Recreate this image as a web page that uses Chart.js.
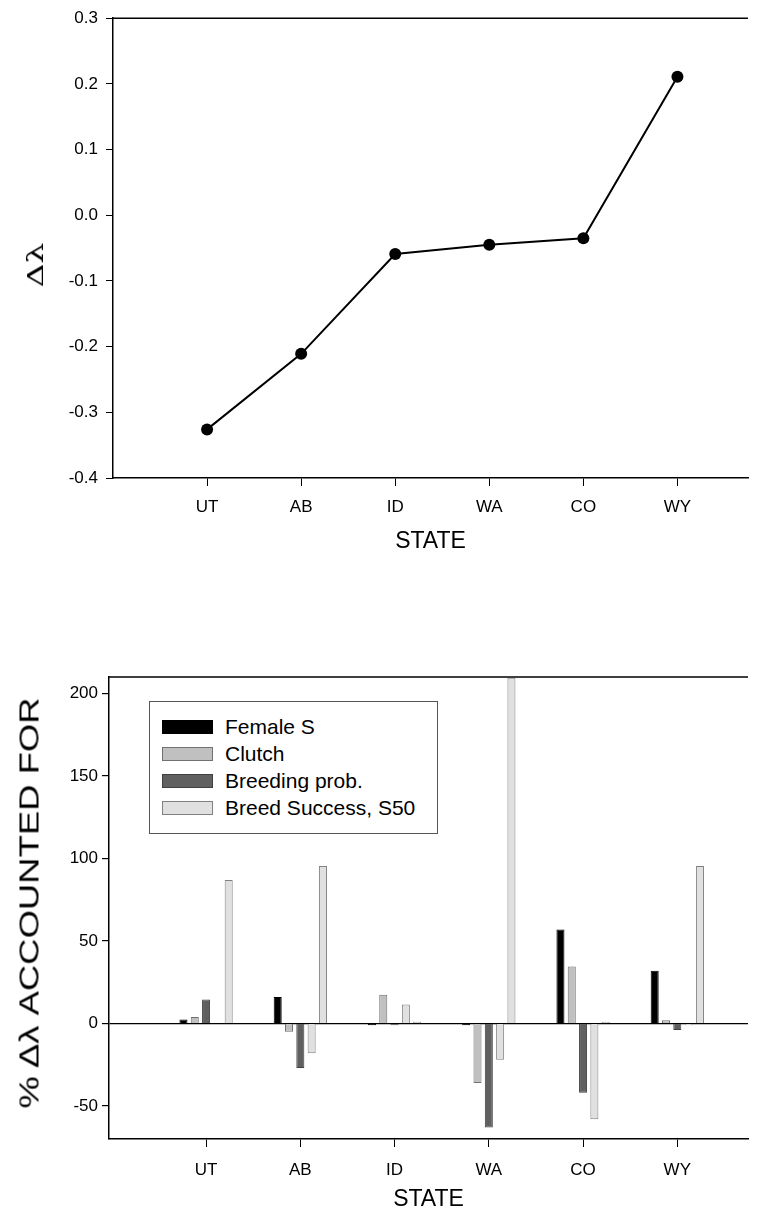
<!DOCTYPE html>
<html>
<head>
<meta charset="UTF-8" />
<title>Delta lambda by state</title>
<script src="https://cdn.jsdelivr.net/npm/chart.js"></script>
<style>
  body {
    margin: 0;
    background: #fff;
    width: 761px;
    height: 1221px;
    position: relative;
    overflow: hidden;
    font-family: 'Liberation Sans', Arial, sans-serif;
  }
  #lambdaChart { position: absolute; left: 0; top: 0; }
  #shareChart { position: absolute; left: 0; top: 570px; }
  #legend {
    position: absolute;
    left: 149px;
    top: 701px;
    width: 287px;
    height: 131px;
    border: 1px solid #555;
    background: #fff;
  }
  .item {
    position: absolute;
    left: 12px;
    height: 20px;
    font-size: 21px;
    line-height: 20px;
    color: #000;
    white-space: nowrap;
  }
  .swatch {
    position: absolute;
    left: 0;
    top: 3px;
    width: 49px;
    height: 12px;
    border: 1px solid #000;
  }
  .item span { position: absolute; left: 63px; top: 0; }
  /* y axis titles, stretched along the text like the original */
  .ytitle {
    position: absolute;
    white-space: nowrap;
    color: #000;
    line-height: 1;
  }
  #lambdaTitle {
    left: 36px; top: 265px;
    font-family: 'DejaVu Serif', 'Liberation Serif', serif;
    font-size: 22px;
    transform: translate(-50%, -50%) rotate(-90deg) scaleX(1.5);
  }
  #shareTitle {
    left: 30px; top: 903px;
    font-size: 27px;
    transform: translate(-50%, -50%) rotate(-90deg) scaleX(1.35);
  }
</style>
</head>
<body>

<canvas id="lambdaChart" width="761" height="570"></canvas>
<canvas id="shareChart" width="761" height="651"></canvas>
<div id="legend"></div>
<div class="ytitle" id="lambdaTitle">Δλ</div>
<div class="ytitle" id="shareTitle">% Δλ ACCOUNTED FOR</div>

<script>
// data
var categories = ["UT", "AB", "ID", "WA", "CO", "WY"];
var deltaLambda = [-0.326, -0.211, -0.059, -0.045, -0.035, 0.211];

var femaleS = [2.4, 16, -1, -1, 57, 32];
var clutch = [4, -5, 17.5, -36, 34.5, 2];
var breedingProb = [14.5, -27, -1, -63, -42, -4];
var breedSuccess = [0, -18, 11.5, -22, -58, -1];
var s50 = [87, 95.5, 1, 209.5, 1, 95.5];

var seriesNames = ["Female S", "Clutch", "Breeding prob.", "Breed Success, S50", ""];

var lambdaTicks = [-0.4, -0.3, -0.2, -0.1, 0, 0.1, 0.2, 0.3];
var shareTicks = [-50, 0, 50, 100, 150, 200];

var tickFont = { family: "'Liberation Sans', Arial, sans-serif", size: 17 };
var titleFont = { family: "'Liberation Sans', Arial, sans-serif", size: 23 };

function points(values) {
  return values.map(function (v, i) { return { x: i + 1, y: v }; });
}

// top edge of the plot frame
var topFrame = {
  id: "topFrame",
  afterDraw: function (chart) {
    var ctx = chart.ctx, a = chart.chartArea;
    ctx.save();
    ctx.strokeStyle = "#000";
    ctx.lineWidth = 1.5;
    ctx.beginPath();
    ctx.moveTo(a.left, a.top);
    ctx.lineTo(a.right, a.top);
    ctx.stroke();
    ctx.restore();
  }
};

function stateAxis(min, height, titlePad, labelPad) {
  return {
    type: "linear",
    min: min,
    max: 6.75,
    offset: false,
    afterBuildTicks: function (scale) {
      scale.ticks = categories.map(function (c, i) { return { value: i + 1 }; });
    },
    afterFit: function (scale) { scale.height = height; },
    ticks: {
      autoSkip: false,
      maxRotation: 0,
      color: "#000",
      font: tickFont,
      padding: labelPad,
      callback: function (v) { return categories[v - 1] || ""; }
    },
    grid: { display: true, offset: false, drawOnChartArea: false, tickLength: 8, tickColor: "#000" },
    border: { display: true, color: "#000", width: 1.5 },
    title: { display: true, text: "STATE", color: "#000", font: titleFont, padding: { top: 0, bottom: titlePad } }
  };
}

function fixedTicks(list) {
  return function (scale) {
    scale.ticks = list.map(function (v) { return { value: v }; });
  };
}

new Chart(document.getElementById("lambdaChart"), {
  type: "line",
  data: {
    datasets: [{
      data: points(deltaLambda),
      borderColor: "#000",
      backgroundColor: "#000",
      borderWidth: 2,
      pointRadius: 6,
      pointBackgroundColor: "#000",
      pointBorderWidth: 0,
      tension: 0
    }]
  },
  options: {
    responsive: false,
    animation: false,
    layout: { padding: { top: 16, right: 13, left: 0, bottom: 0 } },
    plugins: { legend: { display: false }, tooltip: { enabled: false } },
    scales: {
      x: stateAxis(0, 92, 15, 11),
      y: {
        min: -0.4,
        max: 0.3,
        afterBuildTicks: fixedTicks(lambdaTicks),
        ticks: {
          color: "#000",
          font: tickFont,
          padding: 8,
          callback: function (v) { return Math.abs(v) < 1e-9 ? "0.0" : v.toFixed(1); }
        },
        afterFit: function (scale) { scale.width = 113; },
        grid: { drawOnChartArea: false, tickLength: 7, tickColor: "#000" },
        border: { color: "#000", width: 1.5 },
        title: { display: false }
      }
    }
  },
  plugins: [topFrame]
});

var fills = ["#000000", "#c0c0c0", "#606060", "#e0e0e0", "#e0e0e0"];
var edges = ["#000000", "#707070", "#404040", "#808080", "#808080"];
var seriesValues = [femaleS, clutch, breedingProb, breedSuccess, s50];

var shareChart = new Chart(document.getElementById("shareChart"), {
  type: "bar",
  data: {
    datasets: seriesValues.map(function (vals, k) {
      return {
        label: seriesNames[k],
        data: points(vals),
        backgroundColor: fills[k],
        borderColor: edges[k],
        borderWidth: 1,
        categoryPercentage: 0.6,
        barPercentage: 0.71
      };
    })
  },
  options: {
    responsive: false,
    animation: false,
    layout: { padding: { top: 107, right: 13, left: 0, bottom: 0 } },
    plugins: { legend: { display: false }, tooltip: { enabled: false } },
    scales: {
      x: stateAxis(-0.03, 82, 8, 13),
      y: {
        min: -70,
        max: 210,
        afterBuildTicks: fixedTicks(shareTicks),
        ticks: { color: "#000", font: tickFont, padding: 4 },
        afterFit: function (scale) { scale.width = 109; },
        grid: {
          drawOnChartArea: true,
          tickLength: 7,
          tickColor: "#000",
          lineWidth: 1.2,
          color: function (c) { return c.tick && c.tick.value === 0 ? "#000" : "rgba(0,0,0,0)"; }
        },
        border: { color: "#000", width: 1.5 },
        title: { display: false }
      }
    }
  },
  plugins: [topFrame]
});

// legend box inside the plot, built from the datasets
var legend = document.getElementById("legend");
shareChart.data.datasets.forEach(function (ds, k) {
  if (!ds.label) return;
  var row = document.createElement("div");
  row.className = "item";
  row.style.top = (15 + 27 * k) + "px";
  var sw = document.createElement("div");
  sw.className = "swatch";
  sw.style.background = ds.backgroundColor;
  sw.style.borderColor = ds.borderColor;
  var tx = document.createElement("span");
  tx.textContent = ds.label;
  row.appendChild(sw);
  row.appendChild(tx);
  legend.appendChild(row);
});
</script>

</body>
</html>
